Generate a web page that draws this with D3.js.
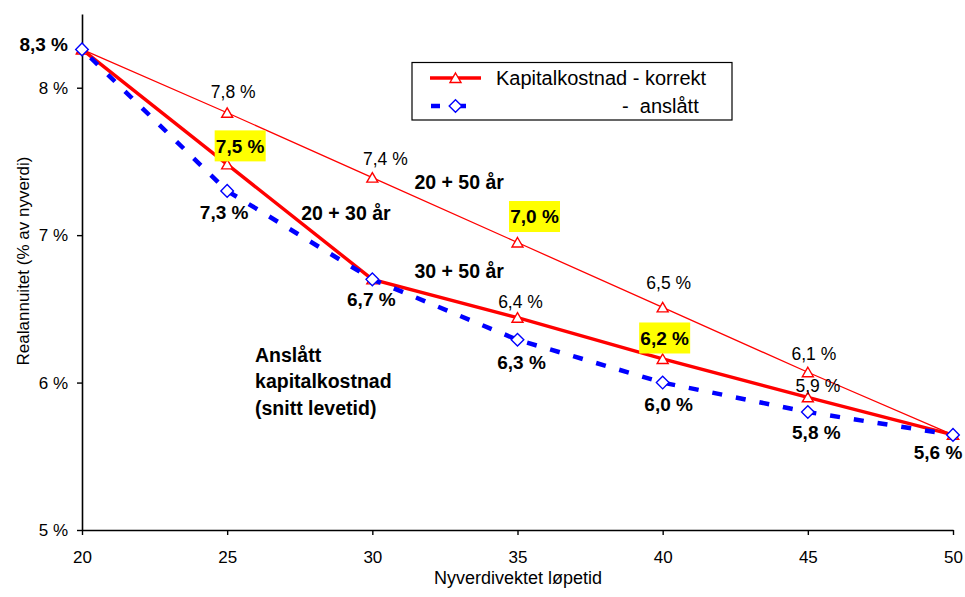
<!DOCTYPE html>
<html>
<head>
<meta charset="utf-8">
<script src="https://cdn.jsdelivr.net/npm/d3@7"></script>
<style>
  html, body { margin: 0; padding: 0; background: #fff; }
  svg { display: block; font-family: "Liberation Sans", Arial, sans-serif; }
</style>
</head>
<body>
<svg id="chart" width="965" height="597"></svg>
<script>
// ---------- data ----------
const years      = [20, 25, 30, 35, 40, 45, 50];
const korrekt    = [8.26, 7.48, 6.70, 6.44, 6.16, 5.90, 5.645]; // Kapitalkostnad - korrekt (20 + 30 år / 30 + 50 år)
const anslatt    = [8.26, 7.30, 6.70, 6.29, 6.00, 5.80, 5.645]; // Kapitalkostnad - anslått
const tjueFemti  = [8.26, 7.83, 7.39, 6.95, 6.51, 6.07, 5.645]; // 20 + 50 år
const yTicks     = [5, 6, 7, 8];
const xTicks     = [20, 25, 30, 35, 40, 45, 50];

const labelsTjueFemti = ["", "7,8 %", "7,4 %", "7,0 %", "6,5 %", "6,1 %", ""];
const labelsKorrekt   = ["", "7,5 %", "", "6,4 %", "6,2 %", "5,9 %", ""];
const labelsAnslatt   = ["8,3 %", "7,3 %", "6,7 %", "6,3 %", "6,0 %", "5,8 %", "5,6 %"];

const annotations = [
  { text: ["20 + 30 år"], x: 29.09, y: 7.148 },
  { text: ["20 + 50 år"], x: 32.99, y: 7.359 },
  { text: ["30 + 50 år"], x: 32.99, y: 6.758 },
  { text: ["Anslått", "kapitalkostnad", "(snitt levetid)"], x: 25.96, y: 6.188, left: true }
];

// ---------- layout / style (pixels) ----------
const offTjueFemti = [null, [6,-21], [13,-19], [17,-26], [6,-25], [6,-18.5], null];
const hlTjueFemti  = [false, false, false, true, false, false, false];
const offKorrekt   = [null, [13,-18.5], null, [3,-16], [2,-21], [10,-11.5], null];
const hlKorrekt    = [false, true, false, false, true, false, false];
const offAnslatt   = [[-14,-5,"end"], [-3,21], [-1,20], [4,22.5], [6,21.5], [8.5,20], [-15,17]];

const svg = d3.select("#chart");
const x = d3.scaleLinear().domain([20, 50]).range([82, 953]);
const y = d3.scaleLinear().domain([5, 8.5]).range([530, 14]);

// axes
const yAxis = svg.append("g").attr("transform", "translate(82,0)")
  .call(d3.axisLeft(y).tickValues(yTicks).tickFormat(d => d + " %")
        .tickSize(5).tickPadding(9).tickSizeOuter(0));
const xAxis = svg.append("g").attr("transform", "translate(0,530)")
  .call(d3.axisBottom(x).tickValues(xTicks).tickFormat(d3.format("d"))
        .tickSize(5).tickPadding(16).tickSizeOuter(0));
[yAxis, xAxis].forEach(g => {
  g.attr("font-family", null).attr("font-size", null);
  g.select(".domain").attr("stroke", "#000").attr("stroke-width", 1.6);
  g.selectAll(".tick line").attr("stroke", "#000").attr("stroke-width", 1.4);
  g.selectAll(".tick text").attr("fill", "#000").style("font-size", "17px");
});

svg.append("text").attr("transform", "translate(29,261) rotate(-90)")
  .attr("text-anchor", "middle").style("font-size", "17px").text("Realannuitet (% av nyverdi)");
svg.append("text").attr("x", 518).attr("y", 584)
  .attr("text-anchor", "middle").style("font-size", "18px").text("Nyverdivektet løpetid");

// lines
const line = d3.line().x((d, i) => x(years[i])).y(d => y(d));
const triPath = "M0,-5 L5.5,4.5 L-5.5,4.5 Z";
const diaPath = "M0,-6.3 L6.3,0 L0,6.3 L-6.3,0 Z";

svg.append("path").datum(tjueFemti).attr("d", line)
  .attr("fill", "none").attr("stroke", "#ff0000").attr("stroke-width", 1.3);
svg.append("g").selectAll("path").data(tjueFemti).join("path")
  .attr("d", triPath).attr("transform", (d, i) => `translate(${x(years[i])},${y(d)})`)
  .attr("fill", "#fff").attr("stroke", "#ff0000").attr("stroke-width", 1.4);

svg.append("path").datum(korrekt).attr("d", line)
  .attr("fill", "none").attr("stroke", "#ff0000").attr("stroke-width", 3.4);
svg.append("g").selectAll("path").data(korrekt).join("path")
  .attr("d", triPath).attr("transform", (d, i) => `translate(${x(years[i])},${y(d)})`)
  .attr("fill", "#fff").attr("stroke", "#ff0000").attr("stroke-width", 1.4);

svg.append("path").datum(anslatt).attr("d", line)
  .attr("fill", "none").attr("stroke", "#0000ff").attr("stroke-width", 4.5)
  .attr("stroke-dasharray", "10,14").attr("stroke-dashoffset", -12);
svg.append("g").selectAll("path").data(anslatt).join("path")
  .attr("d", diaPath).attr("transform", (d, i) => `translate(${x(years[i])},${y(d)})`)
  .attr("fill", "#fff").attr("stroke", "#0000ff").attr("stroke-width", 1.4);

// data labels
function addLabels(values, labels, offs, hl, bold) {
  values.forEach((v, i) => {
    if (!labels[i]) return;
    const px = x(years[i]) + offs[i][0], py = y(v) + offs[i][1];
    const anchor = offs[i][2] || "middle";
    const t = svg.append("text").attr("x", px).attr("y", py).attr("dy", "0.36em")
      .attr("text-anchor", anchor)
      .style("font-size", bold || (hl && hl[i]) ? "19px" : "17.5px")
      .style("font-weight", bold || (hl && hl[i]) ? "bold" : "normal")
      .text(labels[i]);
    if (hl && hl[i]) {
      svg.insert("rect", () => t.node())
        .attr("x", px - 25.5).attr("y", py - 15.5).attr("width", 51).attr("height", 31)
        .attr("fill", "#ffff00");
    }
  });
}
addLabels(tjueFemti, labelsTjueFemti, offTjueFemti, hlTjueFemti, false);
addLabels(korrekt, labelsKorrekt, offKorrekt, hlKorrekt, false);
addLabels(anslatt, labelsAnslatt, offAnslatt, null, true);

// annotations
annotations.forEach(a => {
  const t = svg.append("text").attr("x", x(a.x)).attr("y", y(a.y))
    .attr("text-anchor", a.left ? "start" : "middle")
    .style("font-size", "19.5px").style("font-weight", "bold");
  a.text.forEach((s, k) => {
    t.append("tspan").attr("x", x(a.x)).attr("dy", k === 0 ? "0.36em" : "26.5px").text(s);
  });
});

// legend
const lg = svg.append("g");
lg.append("rect").attr("x", 412).attr("y", 62.5).attr("width", 320).attr("height", 57.5)
  .attr("fill", "#fff").attr("stroke", "#000").attr("stroke-width", 1.2);
lg.append("line").attr("x1", 430).attr("x2", 481).attr("y1", 78).attr("y2", 78)
  .attr("stroke", "#ff0000").attr("stroke-width", 3.4);
lg.append("path").attr("d", triPath).attr("transform", "translate(455.5,78)")
  .attr("fill", "#fff").attr("stroke", "#ff0000").attr("stroke-width", 1.4);
lg.append("line").attr("x1", 431).attr("x2", 466).attr("y1", 106).attr("y2", 106)
  .attr("stroke", "#0000ff").attr("stroke-width", 4.5).attr("stroke-dasharray", "9,20");
lg.append("path").attr("d", diaPath).attr("transform", "translate(455.5,106)")
  .attr("fill", "#fff").attr("stroke", "#0000ff").attr("stroke-width", 1.4);
lg.append("text").attr("x", 496).attr("y", 85).style("font-size", "20px")
  .text("Kapitalkostnad - korrekt");
lg.append("text").attr("x", 622).attr("y", 113).style("font-size", "20px")
  .style("white-space", "pre").attr("xml:space", "preserve").text("-  anslått");
</script>
</body>
</html>
